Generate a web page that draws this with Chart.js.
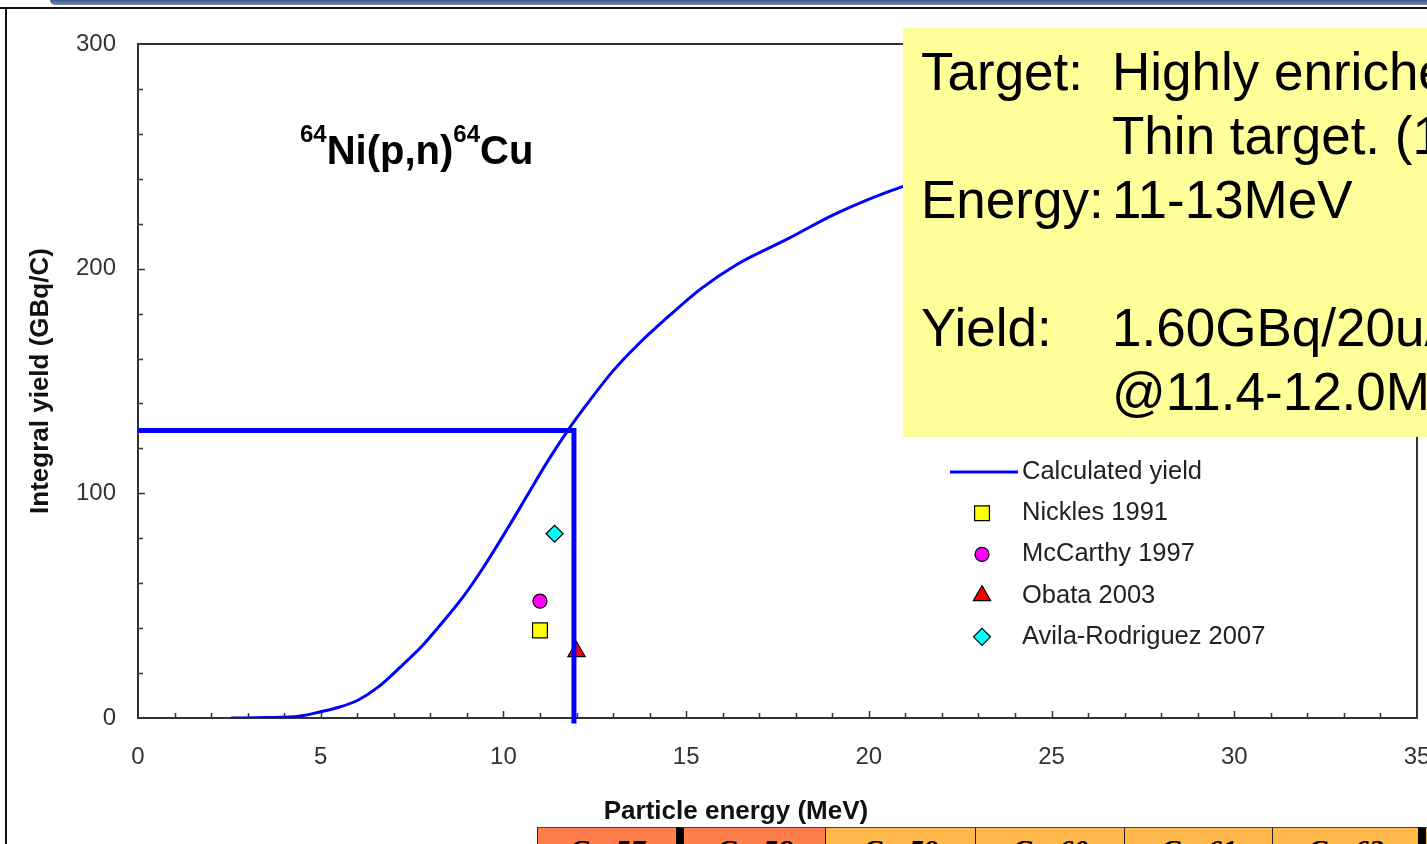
<!DOCTYPE html>
<html>
<head>
<meta charset="utf-8">
<title>64Ni(p,n)64Cu integral yield</title>
<script src="https://cdn.jsdelivr.net/npm/chart.js@4.4.1/dist/chart.umd.min.js"></script>
<style>
  html, body { margin: 0; padding: 0; }
  body {
    width: 1427px; height: 844px; overflow: hidden; position: relative;
    background: #fff; font-family: "Liberation Sans", Arial, sans-serif;
  }
  #banner {
    position: absolute; left: 50px; top: 0; width: 1400px; height: 5px;
    border-bottom-left-radius: 14px;
    background: linear-gradient(#43578a, #7288b5);
  }
  #ruleTop { position: absolute; left: 0; top: 7px; width: 1427px; height: 2px; background: #111; }
  #ruleLeft { position: absolute; left: 5px; top: 7px; width: 2px; height: 837px; background: #111; }
  #wrap { position: absolute; left: 0; top: 0; width: 1470px; height: 844px; }

  #reaction {
    position: absolute; left: 300px; top: 128px; white-space: nowrap;
    font-weight: bold; font-size: 40px; line-height: 44px; color: #000;
  }
  #reaction .iso { font-size: 24px; position: relative; top: -22px; }

  #xTitle {
    position: absolute; left: 536px; top: 795px; width: 400px; text-align: center;
    font-weight: bold; font-size: 26px; line-height: 30px; color: #111;
  }

  #note {
    position: absolute; left: 903px; top: 28px; width: 560px; height: 409px;
    background: #ffff99; box-sizing: border-box; padding: 12px 0 0 18px;
    font-size: 53px; line-height: 64px; color: #000; white-space: nowrap;
  }
  #note .k { display: inline-block; width: 191px; }

  #isotopes { position: absolute; left: 537px; top: 827px; height: 40px; display: flex; }
  #isotopes div {
    box-sizing: border-box; height: 40px; border-top: 1px solid #7a3418;
    border-left: 1px solid #222; text-align: center; overflow: hidden;
    font: italic bold 30px "Liberation Serif", "Times New Roman", serif;
    line-height: 30px; padding-top: 7px; color: #000;
  }
  #isotopes .hot { background: #ff7f4c; }
  #isotopes .warm { background: #ffb84c; }
  #isotopes .thick { border-left: 8px solid #000; }
</style>
</head>
<body>
<div id="banner"></div>
<div id="ruleTop"></div>
<div id="ruleLeft"></div>

<div id="wrap"><canvas id="yieldChart" width="1470" height="844"></canvas></div>

<div id="reaction"><span class="iso">64</span>Ni(p,n)<span class="iso">64</span>Cu</div>
<div id="xTitle">Particle energy (MeV)</div>

<div id="note">
  <div><span class="k">Target:</span>Highly enriched</div>
  <div><span class="k"></span>Thin target. (1</div>
  <div><span class="k">Energy:</span>11-13MeV</div>
  <div>&nbsp;</div>
  <div><span class="k">Yield:</span>1.60GBq/20uA</div>
  <div><span class="k"></span>@11.4-12.0MeV</div>
</div>

<div id="isotopes">
  <div class="hot" style="width:139px">Cu-57</div>
  <div class="hot thick" style="width:149px">Cu-58</div>
  <div class="warm" style="width:150px">Cu-59</div>
  <div class="warm" style="width:149px">Cu-60</div>
  <div class="warm" style="width:148px">Cu-61</div>
  <div class="warm" style="width:146px">Cu-62</div>
  <div class="warm thick" style="width:20px"></div>
</div>

<script>
// axis ranges / ticks
const xRange = [0, 35];
const yRange = [0, 300];
const xLabelStep = 5;
const yLabelStep = 100;
const xMinorStep = 1;
const yMinorStep = 20;

// calculated integral yield curve (MeV, GBq/C)
const energy = [2.55, 3.5, 4.4, 5.0, 5.5, 6.0, 6.55, 7.2, 7.8, 8.2, 8.9, 9.45, 10.1, 10.65,
  11.2, 11.75, 12.3, 13.0, 13.65, 14.5, 15.4, 16.4, 17.75, 19.1, 20.9, 21.6];
const calcYield = [0, 0.2, 0.8, 2.8, 4.8, 7.8, 13.5, 23, 32.5, 40, 54, 67, 84, 99,
  114, 127.7, 140, 154.5, 165.7, 178.5, 191, 202, 213, 224.5, 236.4, 239.6];

// read-off guide lines (12 MeV -> 128 GBq/C)
const guideX = [0, 11.93, 11.93];
const guideY = [128, 128, -2.5];

// measured points
const nicklesE = [11.0];   const nicklesY = [39];
const mccarthyE = [11.0];  const mccarthyY = [52];
const obataE = [12.0];     const obataY = [29.5];
const avilaE = [11.4];     const avilaY = [82];

const pts = (xs, ys) => xs.map((v, i) => ({ x: v, y: ys[i] }));
const tickFont = { family: '"Liberation Sans", Arial, sans-serif', size: 24 };

// frame round the plot + inside minor ticks
const plotFrame = {
  id: 'plotFrame',
  beforeDatasetsDraw(chart) {
    const { ctx, chartArea: a, scales: { x, y } } = chart;
    ctx.save();
    ctx.strokeStyle = '#333';
    ctx.lineWidth = 2;
    ctx.strokeRect(a.left, a.top, a.right - a.left, a.bottom - a.top);
    ctx.lineWidth = 1.5;
    ctx.beginPath();
    for (let v = x.min + xMinorStep; v < x.max; v += xMinorStep) {
      const px = Math.round(x.getPixelForValue(v)) + 0.5;
      const len = v % xLabelStep === 0 ? 7 : 5;
      ctx.moveTo(px, a.bottom);
      ctx.lineTo(px, a.bottom - len);
    }
    for (let v = y.min + yMinorStep; v < y.max; v += yMinorStep) {
      const py = Math.round(y.getPixelForValue(v)) + 0.5;
      const len = v % yLabelStep === 0 ? 7 : 5;
      ctx.moveTo(a.left, py);
      ctx.lineTo(a.left + len, py);
    }
    ctx.stroke();
    ctx.restore();
  }
};

// legend box placed below the yellow note
const sideLegend = {
  id: 'sideLegend',
  afterDatasetsDraw(chart) {
    const ctx = chart.ctx;
    const left = 950, top = 472, rowH = 41.2, markX = 982, textX = 1022;
    const items = chart.data.datasets.filter(d => d.label);
    ctx.save();
    ctx.font = '25.5px "Liberation Sans", Arial, sans-serif';
    ctx.textBaseline = 'middle';
    items.forEach((d, i) => {
      const cy = top + i * rowH;
      if (d.showLine) {
        ctx.strokeStyle = d.borderColor;
        ctx.lineWidth = d.borderWidth;
        ctx.beginPath();
        ctx.moveTo(left, cy);
        ctx.lineTo(textX - 4, cy);
        ctx.stroke();
      } else {
        ctx.fillStyle = d.backgroundColor;
        ctx.strokeStyle = d.borderColor;
        ctx.lineWidth = d.borderWidth;
        Chart.helpers.drawPoint(ctx, {
          pointStyle: d.pointStyle, radius: d.pointRadius, rotation: 0, borderWidth: d.borderWidth
        }, markX, cy);
      }
      ctx.fillStyle = '#222';
      ctx.fillText(d.label, textX, cy);
    });
    ctx.restore();
  }
};

const marker = (label, xs, ys, style, fill, radius) => ({
  label: label,
  data: pts(xs, ys),
  showLine: false,
  pointStyle: style,
  pointRadius: radius,
  backgroundColor: fill,
  borderColor: '#000',
  borderWidth: 1.2
});

const canvasYield = document.getElementById('yieldChart');
const configYield = {
  type: 'scatter',
  data: {
    datasets: [
      {
        data: pts(guideX, guideY),
        showLine: true,
        borderColor: '#0000ff',
        borderWidth: 5,
        pointRadius: 0,
        clip: false
      },
      {
        label: 'Calculated yield',
        data: pts(energy, calcYield),
        showLine: true,
        borderColor: '#0000ff',
        borderWidth: 3,
        pointRadius: 0,
        cubicInterpolationMode: 'monotone'
      },
      marker('Nickles 1991', nicklesE, nicklesY, 'rect', '#ffff00', 10.5),
      marker('McCarthy 1997', mccarthyE, mccarthyY, 'circle', '#ff00ff', 7),
      marker('Obata 2003', obataE, obataY, 'triangle', '#ff0000', 10),
      marker('Avila-Rodriguez 2007', avilaE, avilaY, 'rectRot', '#00ffff', 8.5)
    ]
  },
  options: {
    responsive: false,
    animation: false,
    layout: { padding: { left: 0, top: 44, right: 53, bottom: 0 } },
    plugins: { legend: { display: false }, tooltip: { enabled: false } },
    scales: {
      x: {
        type: 'linear', min: xRange[0], max: xRange[1],
        ticks: { stepSize: xLabelStep, padding: 25, font: tickFont, color: '#333' },
        grid: { display: false, drawTicks: false },
        border: { display: false },
        afterFit(s) { s.height = 126; }
      },
      y: {
        type: 'linear', min: yRange[0], max: yRange[1],
        ticks: { stepSize: yLabelStep, padding: 22, font: tickFont, color: '#333' },
        grid: { display: false, drawTicks: false },
        border: { display: false },
        title: {
          display: true, text: 'Integral yield (GBq/C)', color: '#111',
          font: { family: '"Liberation Sans", Arial, sans-serif', size: 26, weight: 'bold' },
          padding: { top: 25, bottom: 0 }
        },
        afterFit(s) { s.width = 138; }
      }
    }
  },
  plugins: [plotFrame, sideLegend]
};

const chartYield = new Chart(canvasYield, configYield);
</script>
</body>
</html>
